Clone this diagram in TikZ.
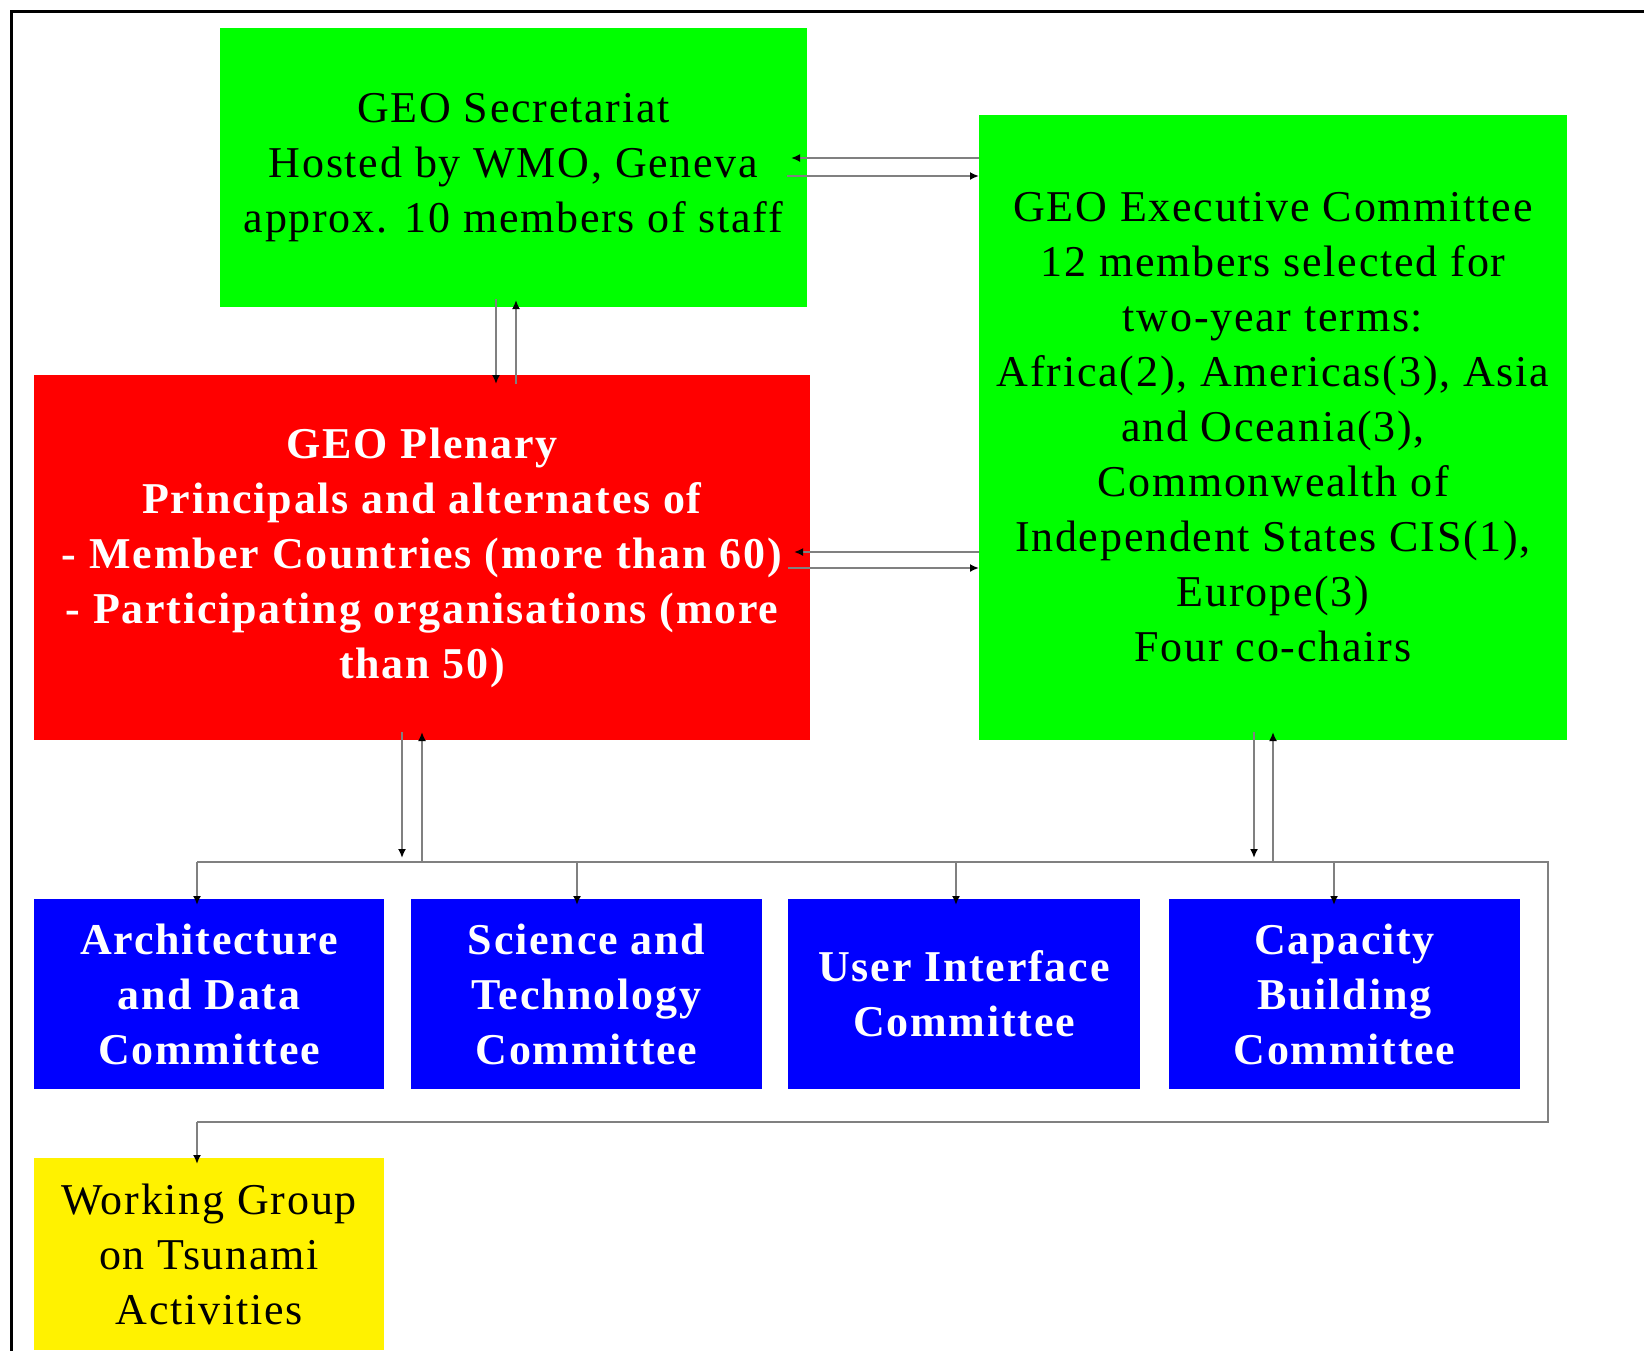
\documentclass[tikz,border=0pt]{standalone}
\usepackage{fontspec}
\setmainfont{Liberation Serif}[LetterSpace=4]
\usetikzlibrary{arrows.meta,calc}
\definecolor{linegray}{RGB}{128,128,128}
\begin{document}
\begin{tikzpicture}[x=1pt,y=-1pt,
  box/.style={inner sep=0pt, outer sep=0pt, align=center, anchor=north west},
  plainbox/.style={box, text=black, font=\fontsize{44}{55}\selectfont},
  boldbox/.style={box, text=white, font=\fontsize{44}{55}\selectfont\bfseries},
  wire/.style={draw=linegray, line width=2.7pt},
  conn/.style={wire, -{Latex[length=9pt,width=8pt,color=black]}},
]
\useasboundingbox (0,0) rectangle (1644,1350);

% frame
\draw[line width=2.7pt] (1660,11.3) -- (11.3,11.3) -- (11.3,1360);

% top level bodies
\node[plainbox, fill=green, minimum width=587pt, minimum height=279pt] (sec) at (220,28)
  {GEO Secretariat\\Hosted by WMO, Geneva\\approx. 10 members of staff};
\node[plainbox, fill=green, minimum width=588pt, minimum height=625pt] (exec) at (979,115)
  {GEO Executive Committee\\12 members selected for\\two-year terms:\\Africa(2), Americas(3), Asia\\and Oceania(3),\\Commonwealth of\\Independent States CIS(1),\\Europe(3)\\Four co-chairs};
\node[boldbox, fill=red, minimum width=776pt, minimum height=365pt] (plen) at (34,375)
  {GEO Plenary\\Principals and alternates of\\- Member Countries (more than 60)\\- Participating organisations (more\\than 50)};

% committees
\node[boldbox, fill=blue, minimum width=350pt, minimum height=190pt] (adc) at (34,899)
  {Architecture\\and Data\\Committee};
\node[boldbox, fill=blue, minimum width=351pt, minimum height=190pt] (stc) at (411,899)
  {Science and\\Technology\\Committee};
\node[boldbox, fill=blue, minimum width=352pt, minimum height=190pt] (uic) at (788,899)
  {User Interface\\Committee};
\node[boldbox, fill=blue, minimum width=351pt, minimum height=190pt] (cbc) at (1169,899)
  {Capacity\\Building\\Committee};
\node[plainbox, fill=yellow, minimum width=350pt, minimum height=192pt] (wgt) at (34,1158)
  {Working Group\\on Tsunami\\Activities};

% reference points of the links
\coordinate (h1) at (900,158);
\coordinate (h2) at (900,176);
\coordinate (h3) at (900,552);
\coordinate (h4) at (900,568);
\coordinate (v1) at (496,340);
\coordinate (v2) at (516,340);
\coordinate (p1) at (402,862);
\coordinate (p2) at (422,862);
\coordinate (e1) at (1254,862);
\coordinate (e2) at (1273,862);
\coordinate (b1) at (197,862);
\coordinate (b2) at (577,862);
\coordinate (b3) at (956,862);
\coordinate (b4) at (1334,862);
\coordinate (bR) at (1548,862);
\coordinate (lR) at (1548,1122);
\coordinate (lL) at (197,1122);

% secretariat <-> executive committee
\draw[conn] (h1 -| exec.west) -- ($(h1 -| sec.east)+(-16,0)$);
\draw[conn] ($(h2 -| sec.east)+(-20,0)$) -- (h2 -| exec.west);
% plenary <-> executive committee
\draw[conn] (h3 -| exec.west) -- ($(h3 -| plen.east)+(-16,0)$);
\draw[conn] ($(h4 -| plen.east)+(-22,0)$) -- (h4 -| exec.west);
% secretariat <-> plenary
\draw[conn] ($(v1 |- sec.south)+(0,-8)$) -- ($(v1 |- plen.north)+(0,9)$);
\draw[conn] ($(v2 |- plen.north)+(0,9)$) -- ($(v2 |- sec.south)+(0,-7)$);

% bus to the committees
\draw[wire] (b1) -- (bR) -- (lR) -- (lL);
\draw[conn] ($(p1 |- plen.south)+(0,-8)$) -- ($(p1)+(0,-4)$);
\draw[conn] (p2) -- ($(p2 |- plen.south)+(0,-8)$);
\draw[conn] ($(e1 |- exec.south)+(0,-8)$) -- ($(e1)+(0,-4)$);
\draw[conn] (e2) -- ($(e2 |- exec.south)+(0,-8)$);
\draw[conn] (b1) -- ($(b1 |- adc.north)+(0,6)$);
\draw[conn] (b2) -- ($(b2 |- stc.north)+(0,6)$);
\draw[conn] (b3) -- ($(b3 |- uic.north)+(0,6)$);
\draw[conn] (b4) -- ($(b4 |- cbc.north)+(0,6)$);
\draw[conn] (lL) -- ($(lL |- wgt.north)+(0,6)$);
\end{tikzpicture}
\end{document}
